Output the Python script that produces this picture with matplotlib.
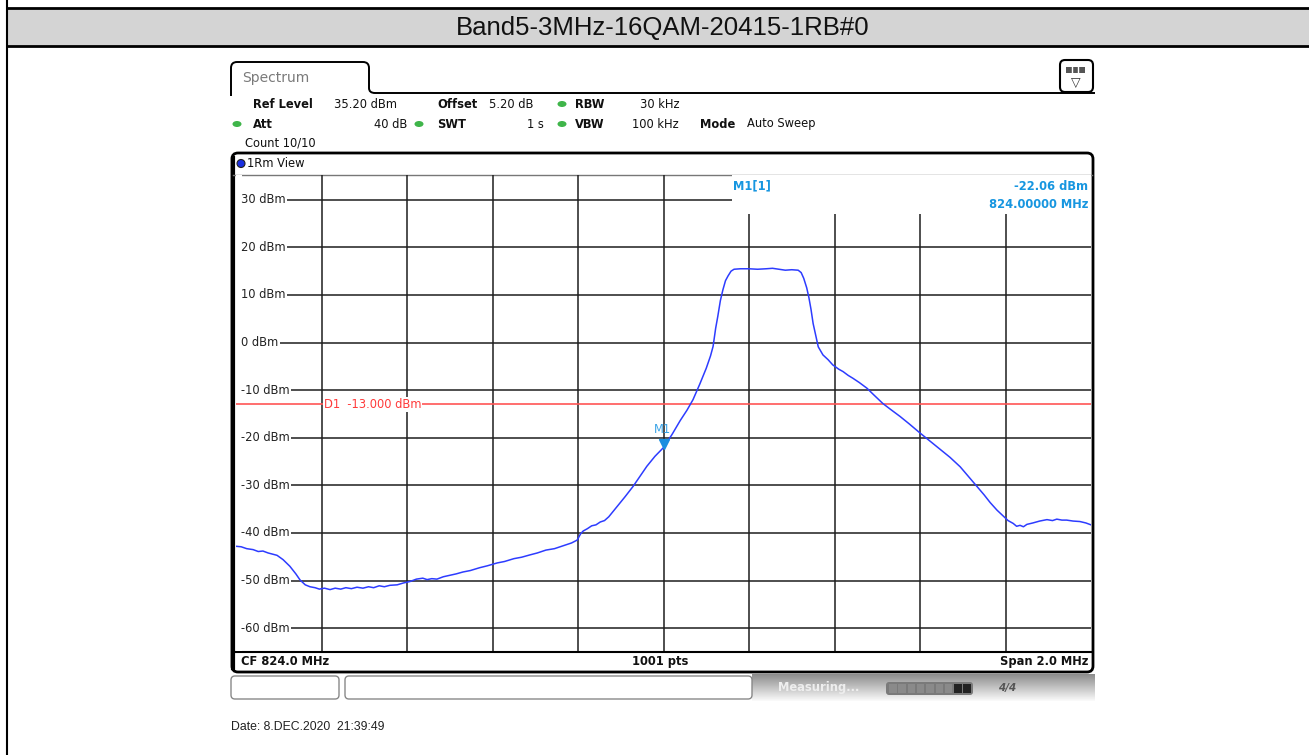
import matplotlib
matplotlib.use("Agg")
import matplotlib.pyplot as plt
import numpy as np
from matplotlib.patches import FancyBboxPatch, Rectangle, Ellipse, Circle, PathPatch
from matplotlib.path import Path
from matplotlib.transforms import offset_copy

W, H = 1309, 755

title = "Band5-3MHz-16QAM-20415-1RB#0"
date_text = "Date: 8.DEC.2020  21:39:49"

# analyzer settings
ref_level = 35.2
db_per_div = 10
center_mhz = 824.0
span_mhz = 2.0
display_line = -13.0
marker_freq = 824.0
marker_level = -22.06

# grid levels
y_grid = [30, 20, 10, 0, -10, -20, -30, -40, -50, -60]
x_grid = [823.2, 823.4, 823.6, 823.8, 824.0, 824.2, 824.4, 824.6, 824.8]

# spectrum trace (MHz, dBm)
freq_mhz = [
    823.000, 823.012, 823.025, 823.040, 823.052, 823.063, 823.075, 823.088,
    823.096, 823.110, 823.126, 823.140, 823.150, 823.162, 823.173, 823.185,
    823.195, 823.207, 823.220, 823.232, 823.245, 823.257, 823.270, 823.283,
    823.297, 823.310, 823.322, 823.335, 823.347, 823.360, 823.377, 823.392,
    823.407, 823.422, 823.437, 823.447, 823.458, 823.470, 823.485, 823.500,
    823.515, 823.531, 823.548, 823.570, 823.588, 823.611, 823.628, 823.650,
    823.668, 823.688, 823.705, 823.725, 823.745, 823.765, 823.785, 823.798,
    823.806, 823.812, 823.822, 823.832, 823.842, 823.852, 823.862, 823.872,
    823.890, 823.910, 823.929, 823.945, 823.961, 823.980, 824.000, 824.020,
    824.039, 824.055, 824.069, 824.085, 824.100, 824.110, 824.116, 824.122,
    824.127, 824.133, 824.139, 824.145, 824.151, 824.158, 824.165, 824.180,
    824.200, 824.220, 824.240, 824.255, 824.270, 824.285, 824.300, 824.315,
    824.322, 824.328, 824.335, 824.340, 824.345, 824.350, 824.356, 824.362,
    824.373, 824.385, 824.396, 824.410, 824.420, 824.432, 824.443, 824.458,
    824.476, 824.492, 824.513, 824.532, 824.553, 824.575, 824.600, 824.622,
    824.647, 824.670, 824.694, 824.712, 824.733, 824.750, 824.764, 824.780,
    824.794, 824.806, 824.818, 824.826, 824.834, 824.842, 824.850, 824.864,
    824.880, 824.897, 824.910, 824.920, 824.932, 824.943, 824.958, 824.974,
    824.988, 825.000,
]
level_dbm = [
    -42.8, -42.9, -43.3, -43.5, -43.9, -43.8, -44.2, -44.5,
    -44.7, -45.6, -47.0, -48.6, -49.9, -50.9, -51.3, -51.5,
    -51.8, -51.6, -51.9, -51.6, -51.8, -51.5, -51.7, -51.4,
    -51.6, -51.3, -51.5, -51.1, -51.3, -51.0, -50.9, -50.5,
    -50.2, -49.7, -49.5, -49.8, -49.6, -49.7, -49.2, -48.9,
    -48.6, -48.2, -47.9, -47.3, -46.9, -46.3, -46.0, -45.4,
    -45.1, -44.6, -44.2, -43.6, -43.3, -42.7, -42.1, -41.5,
    -40.2, -39.6, -39.1, -38.5, -38.3, -37.7, -37.4, -36.6,
    -34.6, -32.4, -30.2, -28.1, -26.0, -23.9, -22.06, -19.3,
    -16.4, -14.2, -12.0, -8.7, -5.4, -2.8, -0.8, 3.0,
    5.5, 8.8, 11.1, 13.0, 14.0, 15.0, 15.4, 15.5,
    15.5, 15.4, 15.5, 15.6, 15.4, 15.2, 15.3, 15.2,
    14.7, 13.5, 11.5, 9.5, 7.0, 4.0, 1.5, -0.9,
    -2.6, -3.6, -4.7, -5.6, -6.1, -6.9, -7.5, -8.4,
    -9.6, -11.0, -12.8, -14.1, -15.5, -17.1, -19.0, -20.6,
    -22.4, -24.1, -26.1, -28.0, -30.2, -32.0, -33.6, -35.2,
    -36.4, -37.4, -38.0, -38.6, -38.4, -38.7, -38.2, -37.9,
    -37.5, -37.2, -37.4, -37.1, -37.3, -37.3, -37.5, -37.6,
    -37.9, -38.3,
]

UI = "DejaVu Sans"
ARIAL = ["Liberation Sans", "DejaVu Sans"]
fs = 8.3

fig = plt.figure(figsize=(W / 100, H / 100), dpi=100)

# pixel-coordinate layers: one under the diagram, one over it
bg = fig.add_axes([0, 0, 1, 1], zorder=0)
top = fig.add_axes([0, 0, 1, 1], zorder=3)
for a in (bg, top):
    a.set_xlim(0, W)
    a.set_ylim(H, 0)
    a.axis("off")
top.patch.set_alpha(0)

# page border and title band
bg.add_patch(Rectangle((7, 8), W - 7, 38, fc="#d4d4d4", ec="none"))
bg.plot([7, W], [8, 8], color="black", lw=2)
bg.plot([7, W], [46, 46], color="black", lw=2)
bg.plot([7, 7], [0, H], color="black", lw=1.5)
bg.text(663, 27.5, title, ha="center", va="center", fontsize=18.5,
        family=ARIAL, color="#111111")

# Spectrum tab
verts = [(231, 96), (231, 68), (231, 62), (237, 62), (363, 62), (369, 62),
         (369, 68), (369, 88), (369, 93), (375, 93), (1095, 93)]
codes = [Path.MOVETO, Path.LINETO, Path.CURVE3, Path.CURVE3, Path.LINETO,
         Path.CURVE3, Path.CURVE3, Path.LINETO, Path.CURVE3, Path.CURVE3,
         Path.LINETO]
bg.add_patch(PathPatch(Path(verts, codes), fc="none", ec="black", lw=1.4))
bg.text(242, 78, "Spectrum", fontsize=10, family=UI, color="#7a7a7a",
        va="center")

# menu icon
bg.add_patch(FancyBboxPatch((1060, 60), 33, 32,
                            boxstyle="round,pad=0,rounding_size=5",
                            fc="white", ec="black", lw=1.5))
bg.add_patch(Rectangle((1066, 67), 19, 6, fc="#555555", ec="none"))
for xx in (1072, 1078):
    bg.plot([xx, xx], [67, 73], color="white", lw=1)
bg.text(1075.5, 82, "\u25bd", fontsize=9, family=UI, ha="center",
        va="center", color="#333333")

# settings block
def info(x, y, s, bold=False, ha="left"):
    bg.text(x, y, s, fontsize=fs, family=UI, ha=ha, va="center",
            weight="bold" if bold else "normal", color="#111111")

def led(x, y):
    bg.add_patch(Ellipse((x, y), 9, 6, fc="#3fb54a", ec="none"))

info(253, 104, "Ref Level", True)
info(334, 104, "35.20 dBm")
info(437, 104, "Offset", True)
info(489, 104, "5.20 dB")
led(562, 104)
info(575, 104, "RBW", True)
info(679, 104, "30 kHz", ha="right")
led(237, 124)
info(253, 124, "Att", True)
info(407, 124, "40 dB", ha="right")
led(419, 124)
info(437, 124, "SWT", True)
info(544, 124, "1 s", ha="right")
led(562, 124)
info(575, 124, "VBW", True)
info(679, 124, "100 kHz", ha="right")
info(700, 124, "Mode", True)
info(747, 124, "Auto Sweep")
info(245, 143, "Count 10/10")

# diagram frame
bg.add_patch(FancyBboxPatch((232, 153), 861, 519,
                            boxstyle="round,pad=0,rounding_size=6",
                            fc="white", ec="black", lw=2))
bg.plot([233, 233], [158, 668], color="black", lw=3)
bg.plot([233, 1092], [174.5, 174.5], color="#777777", lw=1)
bg.add_patch(Circle((241, 163.5), 4, fc="#1a2fe0", ec="#222222", lw=0.8))
bg.text(247, 163.5, "1Rm View", fontsize=fs, family=UI, va="center",
        color="#111111")
bg.plot([233, 1092], [651.5, 651.5], color="black", lw=1.5)
top.text(241, 661.5, "CF 824.0 MHz", fontsize=fs, family=UI, weight="bold",
         va="center", color="#111111")
top.text(660, 661.5, "1001 pts", fontsize=fs, family=UI, weight="bold",
         va="center", ha="center", color="#111111")
top.text(1088, 661.5, "Span 2.0 MHz", fontsize=fs, family=UI, weight="bold",
         va="center", ha="right", color="#111111")

# status bar
grad = np.linspace(0.55, 0.98, 50)[:, None] * np.ones((1, 10))
bg.imshow(grad, cmap="gray", vmin=0, vmax=1, aspect="auto",
          extent=[752, 1095, 701, 674], zorder=0.5)
for x0, w in ((231, 108), (345, 407)):
    bg.add_patch(FancyBboxPatch((x0, 676), w, 23,
                                boxstyle="round,pad=0,rounding_size=4",
                                fc="white", ec="#888888", lw=1, zorder=1))
bg.text(778, 688, "Measuring...", fontsize=8.3, family=UI, weight="bold",
        va="center", color="#eeeeee", zorder=2)
bg.add_patch(FancyBboxPatch((886, 682), 87, 13,
                            boxstyle="round,pad=0,rounding_size=3",
                            fc="#7a7a7a", ec="none", zorder=2))
for i in range(9):
    c = "#222222" if i >= 7 else "#8a8a8a"
    bg.add_patch(Rectangle((889 + i * 9.3, 684), 7.5, 9, fc=c, ec="none",
                           zorder=2.5))
bg.text(998, 688, "4/4", fontsize=7.5, family=UI, weight="bold",
        style="italic", va="center", color="#555555", zorder=2)

bg.text(231, 727, date_text, fontsize=8.8, family=ARIAL, va="center",
        color="#222222")

# measurement diagram
ax = fig.add_axes([236 / W, 1 - 651 / H, 855 / W, 476 / H], zorder=2)
ax.set_xlim(center_mhz - span_mhz / 2, center_mhz + span_mhz / 2)
ax.set_ylim(ref_level - 10 * db_per_div, ref_level)
ax.patch.set_alpha(0)
for s in ax.spines.values():
    s.set_visible(False)
ax.set_xticks([])
ax.set_yticks([])

for f in x_grid:
    ax.axvline(f, color="#1e1e1e", lw=1.1, zorder=1)
for lv in y_grid:
    ax.axhline(lv, color="#1e1e1e", lw=1.1, zorder=1)
    ax.text(823.012, lv, f"{lv} dBm", fontsize=fs, family=UI, va="center",
            color="#222222", zorder=3,
            bbox=dict(boxstyle="square,pad=0.12", fc="white", ec="none"))
# keep the level lines clear of the left edge
ax.add_patch(Rectangle((0, 0), 6 / 855, 1, transform=ax.transAxes,
                       fc="white", ec="none", zorder=1.5))

# marker readout area
ax.add_patch(Rectangle((496 / 855, 1 - 39 / 476), 1 - 496 / 855, 39 / 476,
                       transform=ax.transAxes, fc="white", ec="none",
                       zorder=2))
mcol = "#1796e0"
top.text(733, 186, "M1[1]", fontsize=fs, family=UI, weight="bold",
         va="center", color=mcol)
top.text(1088, 186, f"{marker_level:.2f} dBm", fontsize=fs, family=UI,
         weight="bold", va="center", ha="right", color=mcol)
top.text(1088, 204, f"{marker_freq:.5f} MHz", fontsize=fs, family=UI,
         weight="bold", va="center", ha="right", color=mcol)

# display line D1
ax.axhline(display_line, color="#ff5555", lw=1.2, zorder=2)
ax.text(823.206, display_line, f"D1  {display_line:.3f} dBm", fontsize=fs,
        family=UI, va="center", color="#ff3b3b", zorder=3,
        bbox=dict(boxstyle="square,pad=0.05", fc="white", ec="none"))

ax.plot(freq_mhz, level_dbm, color="#2d3cff", lw=1.1, zorder=4)

# marker M1
tri = offset_copy(ax.transData, fig=fig, x=0, y=4, units="dots")
ax.plot([marker_freq], [marker_level], marker="v", ms=7, color="#1a8ee0",
        transform=tri, zorder=5)
ax.annotate("M1", (marker_freq, marker_level), xytext=(-1, 8),
            textcoords="offset points", ha="center", va="bottom",
            fontsize=fs, family=UI, color="#39a3e6", zorder=5)

fig.savefig("out.png", dpi=100)
